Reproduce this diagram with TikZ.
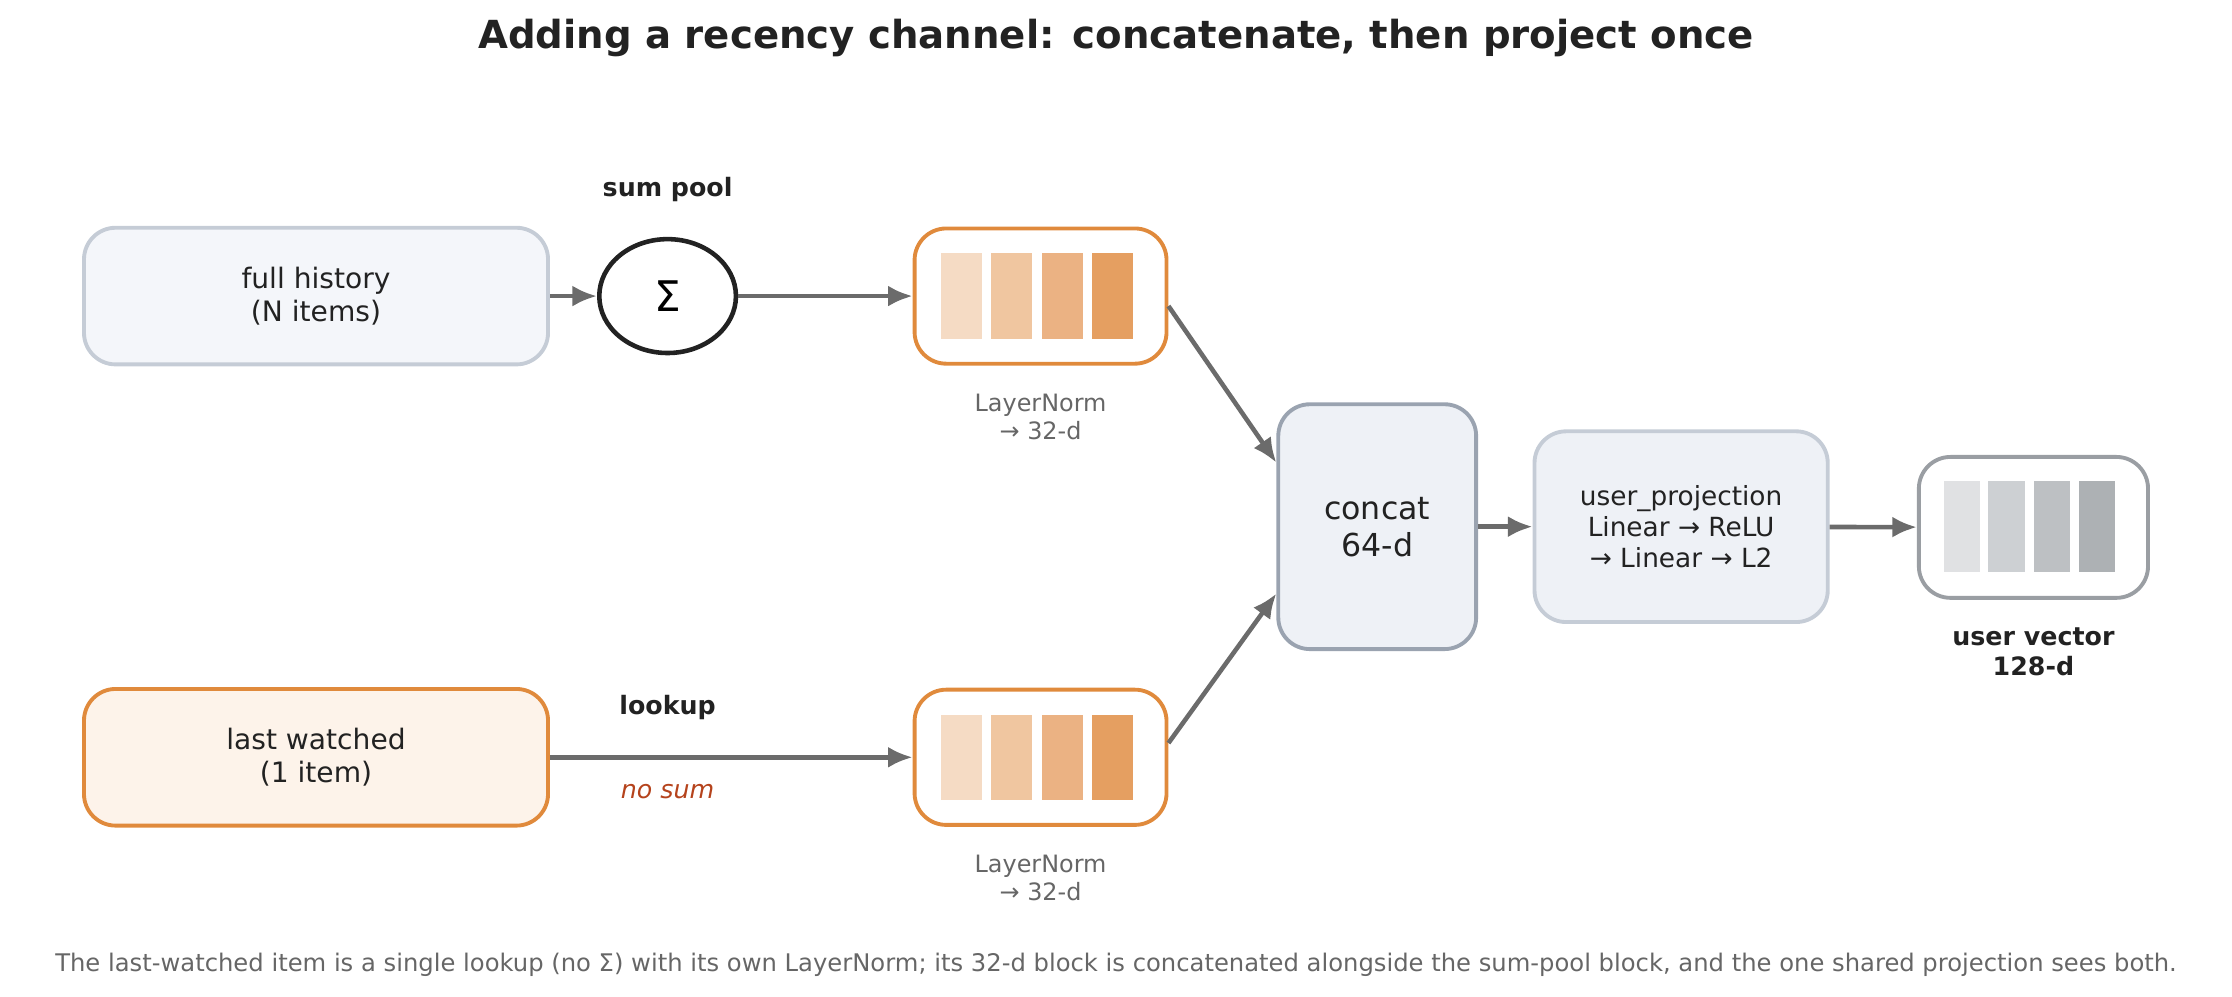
\documentclass[tikz,border=0pt]{standalone}
\usepackage{fontspec}
\setmainfont{DejaVu Sans}
\usetikzlibrary{calc,arrows.meta,shapes.geometric}
\definecolor{arrowgray}{HTML}{6B6B6B}
\definecolor{txtgray}{HTML}{666666}
\definecolor{inkdark}{HTML}{222222}
\definecolor{orng}{HTML}{E08A3C}
\definecolor{lightbord}{HTML}{C5CCD6}
\definecolor{darkbord}{HTML}{9AA3B0}
\definecolor{outbord}{HTML}{9A9EA3}
\definecolor{nosum}{HTML}{B5431C}
\definecolor{histfill}{HTML}{F4F6FA}
\definecolor{lastfill}{HTML}{FDF3EA}
\definecolor{projfill}{HTML}{EEF1F6}
\tikzset{
  pbox/.style 2 args={draw, rounded corners=9pt, line width=1.1pt, align=center,
    minimum width={#1*0.014235cm}, minimum height={#2*0.014235cm}, inner sep=0pt,
    font=\fontsize{8}{9.3}\selectfont, text=inkdark},
  bar/.style 2 args={fill=#1, draw=none, minimum width={#2*0.014235cm}, inner sep=0pt},
  conn/.style={draw=arrowgray, line width=1.3pt, -{Latex[length=7pt,width=6pt]}},
  sublabel/.style={font=\fontsize{6.8}{8}\selectfont, text=txtgray, align=center},
  boldlabel/.style={font=\bfseries\fontsize{7.2}{8.5}\selectfont, text=inkdark, align=center}
}
\begin{document}
\begin{tikzpicture}[x=0.014235cm, y=-0.014235cm]
  \useasboundingbox (0,0) rectangle (1568,700);
  \node[font=\bfseries\fontsize{11}{13}\selectfont, text=inkdark] (title) at (784,27)
    {Adding a recency channel: concatenate, then project once};

  % inputs
  \node[pbox={326}{96}, draw=lightbord, fill=histfill] (hist) at (222,208) {full history\\(N items)};
  \node[pbox={326}{96}, draw=orng, fill=lastfill] (last) at (222,532) {last watched\\(1 item)};

  % pooling
  \node[draw=inkdark, line width=1.3pt, ellipse, minimum width={96*0.014235cm},
    minimum height={80*0.014235cm}, inner sep=0pt, font=\fontsize{12}{14}\selectfont] (sum) at (469,208) {Σ};
  \node[boldlabel] (sumlbl) at (469,133) {sum pool};
  \node[boldlabel] (looklbl) at (469,497) {lookup};
  \node[font=\itshape\fontsize{7.2}{8.5}\selectfont, text=nosum] (nosumlbl) at (469,556) {no sum};

  % 32-d blocks
  \node[pbox={177}{95}, draw=orng, fill=white] (topblk) at (731,208) {};
  \node[pbox={177}{95}, draw=orng, fill=white] (botblk) at (731,532) {};
  \foreach \bx/\bc in {675.5/F5DBC4, 710.5/F0C6A0, 746.5/EBB283, 781.5/E59F61}{
    \definecolor{bcol}{HTML}{\bc}
    \node[bar={bcol}{29}, minimum height={60*0.014235cm}] at (\bx,208) {};
    \node[bar={bcol}{29}, minimum height={60*0.014235cm}] at (\bx,532) {};
  }
  \node[sublabel] (toplbl) at (731,293) {LayerNorm\\→ 32-d};
  \node[sublabel] (botlbl) at (731,617) {LayerNorm\\→ 32-d};

  % concat and projection
  \node[pbox={139}{172}, draw=darkbord, fill=projfill, font=\fontsize{9}{10.5}\selectfont] (concat) at (967.5,370) {concat\\64-d};
  \node[pbox={206}{134}, draw=lightbord, fill=projfill, font=\fontsize{7.5}{8.8}\selectfont] (proj) at (1181,370)
    {user\_projection\\Linear → ReLU\\→ Linear → L2};

  % output
  \node[pbox={161}{99}, draw=outbord, fill=white] (uvec) at (1428.5,370.5) {};
  \foreach \bx/\bc in {1378.5/E0E1E3, 1409.5/CDD0D3, 1441.5/BDC0C3, 1473/ADB1B4}{
    \definecolor{bcol}{HTML}{\bc}
    \node[bar={bcol}{25.5}, minimum height={64*0.014235cm}] at (\bx,370) {};
  }
  \node[boldlabel] (uveclbl) at (1428.5,458) {user vector\\128-d};

  % connectors
  \draw[conn] (hist) -- (sum);
  \draw[conn] (sum) -- (topblk);
  \draw[conn] (last) -- (botblk);
  \draw[conn] ($(topblk.east)+(0,7)$) -- ($(concat.west)+(0,-45)$);
  \draw[conn] ($(botblk.east)+(0,-10)$) -- ($(concat.west)+(0,47)$);
  \draw[conn] (concat) -- (proj);
  \draw[conn] (proj) -- (uvec);

  \node[font=\fontsize{6.9}{8}\selectfont, text=txtgray] (foot) at (784,678)
    {The last-watched item is a single lookup (no Σ) with its own LayerNorm; its 32-d block is concatenated alongside the sum-pool block, and the one shared projection sees both.};
\end{tikzpicture}
\end{document}
